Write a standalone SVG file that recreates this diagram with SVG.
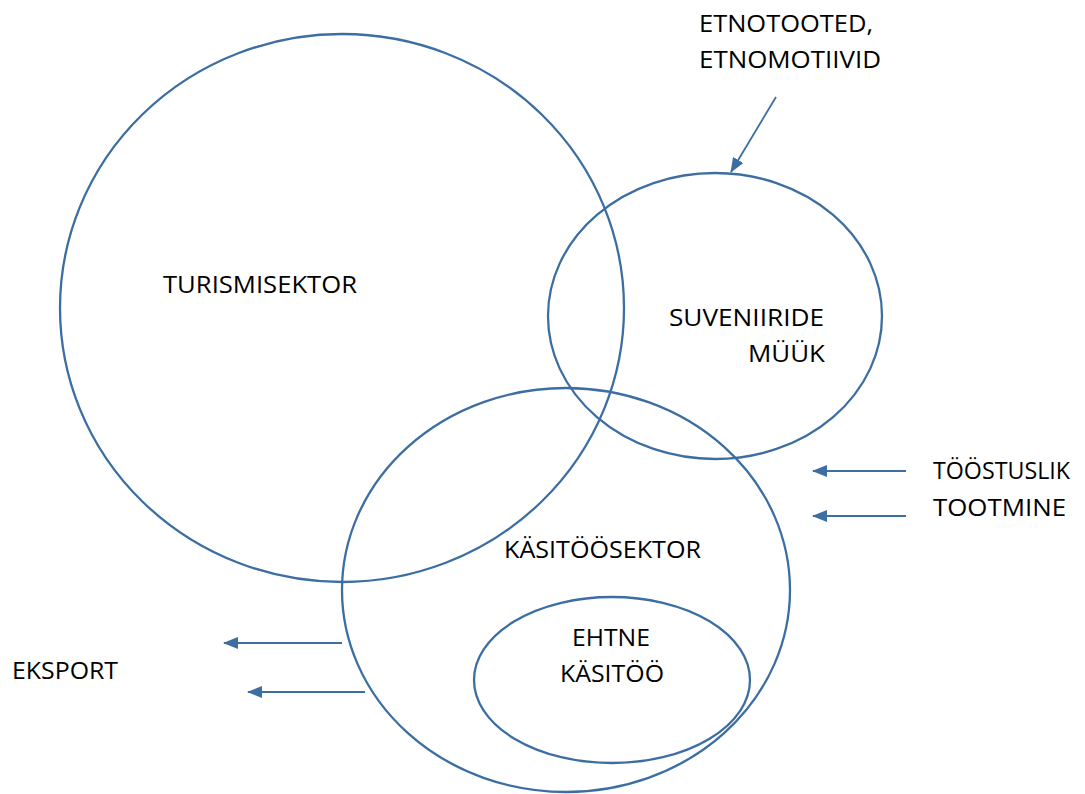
<svg xmlns="http://www.w3.org/2000/svg" width="1085" height="794" viewBox="0 0 1085 794">
<style>
.sh{fill:none;stroke:#3c6ea3;stroke-width:2.3}
.cn{fill:none;stroke:#3c6ea3;stroke-width:1.8}
text{font-family:"Open Sans","Liberation Sans",sans-serif;font-size:24px;fill:#000}
</style>
<defs>
<marker id="ah" viewBox="0 0 15 12" refX="14" refY="6" markerWidth="15" markerHeight="12" markerUnits="userSpaceOnUse" orient="auto">
<path d="M0,0 L15,6 L0,12 Z" fill="#3c6ea3"/>
</marker>
</defs>
<rect width="1085" height="794" fill="#fff"/>
<g id="turismisektor">
<ellipse class="sh" cx="342" cy="308" rx="282" ry="274"/>
<text x="163" y="293" textLength="194" lengthAdjust="spacingAndGlyphs">TURISMISEKTOR</text>
</g>
<g id="suveniiride">
<ellipse class="sh" cx="715" cy="316" rx="167" ry="143"/>
<text x="669" y="326" textLength="155" lengthAdjust="spacingAndGlyphs">SUVENIIRIDE</text>
<text x="748" y="362" textLength="77" lengthAdjust="spacingAndGlyphs">MÜÜK</text>
</g>
<g id="kasitoosektor">
<ellipse class="sh" cx="566" cy="590" rx="224" ry="202"/>
<text x="504" y="558" textLength="197" lengthAdjust="spacingAndGlyphs">KÄSITÖÖSEKTOR</text>
</g>
<g id="ehtne">
<ellipse class="sh" cx="612" cy="680" rx="138" ry="83"/>
<text x="572" y="646" textLength="78" lengthAdjust="spacingAndGlyphs">EHTNE</text>
<text x="560" y="682" textLength="104" lengthAdjust="spacingAndGlyphs">KÄSITÖÖ</text>
</g>
<g id="etno">
<text x="699" y="32" textLength="174" lengthAdjust="spacingAndGlyphs">ETNOTOOTED,</text>
<text x="699" y="68" textLength="182" lengthAdjust="spacingAndGlyphs">ETNOMOTIIVID</text>
</g>
<g id="toostuslik">
<text x="933" y="479" textLength="137" lengthAdjust="spacingAndGlyphs">TÖÖSTUSLIK</text>
<text x="933" y="516" textLength="133" lengthAdjust="spacingAndGlyphs">TOOTMINE</text>
</g>
<g id="eksport">
<text x="12" y="679" textLength="106" lengthAdjust="spacingAndGlyphs">EKSPORT</text>
</g>
<g id="connectors">
<line class="cn" x1="776" y1="97" x2="731" y2="172" marker-end="url(#ah)"/>
<line class="cn" x1="906" y1="471" x2="813" y2="471" marker-end="url(#ah)"/>
<line class="cn" x1="906" y1="516" x2="813" y2="516" marker-end="url(#ah)"/>
<line class="cn" x1="342" y1="643" x2="224" y2="643" marker-end="url(#ah)"/>
<line class="cn" x1="365" y1="692" x2="248" y2="692" marker-end="url(#ah)"/>
</g>
</svg>
